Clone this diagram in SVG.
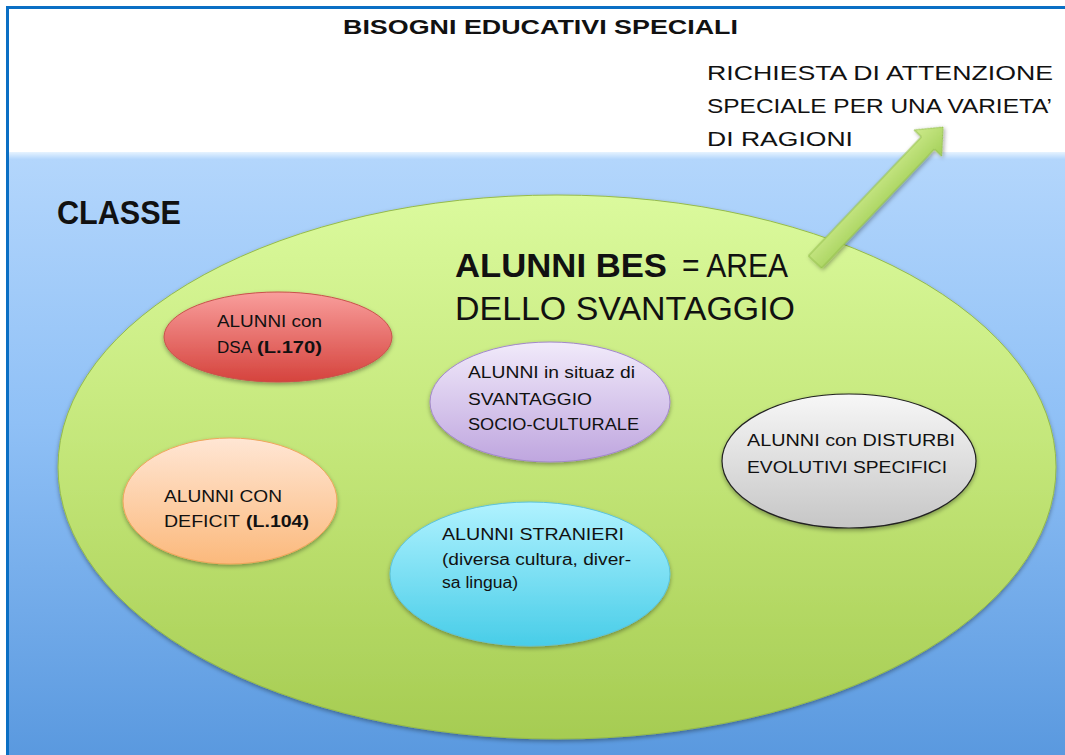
<svg xmlns="http://www.w3.org/2000/svg" width="1065" height="755" viewBox="0 0 1065 755">
<style>
.t{font-family:"Liberation Sans","DejaVu Sans",sans-serif;fill:#111;}
.lb{font-size:16px;}
.b{font-weight:bold;}
</style>
<defs>
<linearGradient id="gBlue" x1="0" y1="0" x2="0" y2="1">
<stop offset="0" stop-color="#e6f3ff"/>
<stop offset="0.012" stop-color="#b3d6fc"/>
<stop offset="0.45" stop-color="#8fc0f6"/>
<stop offset="1" stop-color="#5a99df"/>
</linearGradient>
<linearGradient id="gGreen" x1="0" y1="0" x2="0" y2="1">
<stop offset="0" stop-color="#dbfa9d"/>
<stop offset="0.5" stop-color="#c2e577"/>
<stop offset="1" stop-color="#a6cc52"/>
</linearGradient>
<linearGradient id="gRed" x1="0" y1="0" x2="0" y2="1">
<stop offset="0" stop-color="#f99e9c"/>
<stop offset="1" stop-color="#d5433d"/>
</linearGradient>
<linearGradient id="gOrange" x1="0" y1="0" x2="0" y2="1">
<stop offset="0" stop-color="#ffe6d4"/>
<stop offset="1" stop-color="#fbb97c"/>
</linearGradient>
<linearGradient id="gPurple" x1="0" y1="0" x2="0" y2="1">
<stop offset="0" stop-color="#f1eafa"/>
<stop offset="1" stop-color="#bfa6df"/>
</linearGradient>
<linearGradient id="gGray" x1="0" y1="0" x2="0" y2="1">
<stop offset="0" stop-color="#f7f7f7"/>
<stop offset="1" stop-color="#c6c6c6"/>
</linearGradient>
<linearGradient id="gCyan" x1="0" y1="0" x2="0" y2="1">
<stop offset="0" stop-color="#b0f2ff"/>
<stop offset="1" stop-color="#48cde8"/>
</linearGradient>
<linearGradient id="gArrow" x1="0" y1="0" x2="0" y2="1">
<stop offset="0" stop-color="#cdea8c"/>
<stop offset="1" stop-color="#a3d058"/>
</linearGradient>
<filter id="sh" x="-10%" y="-10%" width="120%" height="130%">
<feDropShadow dx="0" dy="2" stdDeviation="2" flood-color="#000" flood-opacity="0.35"/>
</filter>
</defs>
<rect x="0" y="0" width="1065" height="755" fill="#ffffff"/>
<rect x="8" y="152" width="1057" height="603" fill="url(#gBlue)"/>
<line x1="7" y1="7.5" x2="1065" y2="7.5" stroke="#0a6fc4" stroke-width="3"/>
<line x1="7.5" y1="6" x2="7.5" y2="755" stroke="#0a6fc4" stroke-width="3"/>
<text class="t b" x="343" y="34" font-size="20" textLength="395" lengthAdjust="spacingAndGlyphs">BISOGNI EDUCATIVI SPECIALI</text>
<text class="t" x="707" y="80" font-size="21" textLength="346" lengthAdjust="spacingAndGlyphs">RICHIESTA DI ATTENZIONE</text>
<text class="t" x="707" y="113" font-size="21" textLength="345" lengthAdjust="spacingAndGlyphs">SPECIALE PER UNA VARIETA’</text>
<text class="t" x="707" y="146" font-size="21" textLength="146" lengthAdjust="spacingAndGlyphs">DI RAGIONI</text>
<text class="t b" x="57" y="224" font-size="34" textLength="124" lengthAdjust="spacingAndGlyphs">CLASSE</text>
<g id="bes">
<ellipse cx="557" cy="467" rx="499" ry="272" fill="url(#gGreen)" stroke="#96bb4a" stroke-width="1" filter="url(#sh)"/>
<text class="t b" x="455" y="277" font-size="33" textLength="212" lengthAdjust="spacingAndGlyphs">ALUNNI BES</text>
<text class="t" x="682" y="277" font-size="33" textLength="106" lengthAdjust="spacingAndGlyphs">= AREA</text>
<text class="t" x="455" y="320" font-size="33" textLength="340" lengthAdjust="spacingAndGlyphs">DELLO SVANTAGGIO</text>
</g>
<g id="connectors">
<polygon points="0,-9 164,-9 164,-19 186,0 164,19 164,9 0,9" transform="translate(815,262) rotate(-46.5)" fill="url(#gArrow)" stroke="#93bf4d" stroke-width="1" filter="url(#sh)"/>
</g>
<g id="dsa">
<ellipse cx="278" cy="337" rx="114" ry="45" fill="url(#gRed)" stroke="#c9514c" stroke-width="1" filter="url(#sh)"/>
<text class="t lb" x="217" y="327" textLength="105" lengthAdjust="spacingAndGlyphs">ALUNNI con</text>
<text class="t lb" x="217" y="353" textLength="35" lengthAdjust="spacingAndGlyphs">DSA</text>
<text class="t lb b" x="257" y="353" textLength="65" lengthAdjust="spacingAndGlyphs">(L.170)</text>
</g>
<g id="deficit">
<ellipse cx="230" cy="501" rx="107" ry="63" fill="url(#gOrange)" stroke="#f0a55c" stroke-width="1" filter="url(#sh)"/>
<text class="t lb" x="164" y="502" textLength="118" lengthAdjust="spacingAndGlyphs">ALUNNI CON</text>
<text class="t lb" x="164" y="527" textLength="76" lengthAdjust="spacingAndGlyphs">DEFICIT</text>
<text class="t lb b" x="246" y="527" textLength="63" lengthAdjust="spacingAndGlyphs">(L.104)</text>
</g>
<g id="svantaggio">
<ellipse cx="550" cy="402" rx="120" ry="60" fill="url(#gPurple)" stroke="#a287cc" stroke-width="1" filter="url(#sh)"/>
<text class="t lb" x="468" y="378" textLength="167" lengthAdjust="spacingAndGlyphs">ALUNNI in situaz di</text>
<text class="t lb" x="468" y="405" textLength="124" lengthAdjust="spacingAndGlyphs">SVANTAGGIO</text>
<text class="t lb" x="468" y="430" textLength="171" lengthAdjust="spacingAndGlyphs">SOCIO-CULTURALE</text>
</g>
<g id="disturbi">
<ellipse cx="849" cy="461" rx="127" ry="67" fill="url(#gGray)" stroke="#222" stroke-width="1.2" filter="url(#sh)"/>
<text class="t lb" x="747" y="446" textLength="208" lengthAdjust="spacingAndGlyphs">ALUNNI con  DISTURBI</text>
<text class="t lb" x="747" y="473" textLength="200" lengthAdjust="spacingAndGlyphs">EVOLUTIVI SPECIFICI</text>
</g>
<g id="stranieri">
<ellipse cx="530" cy="574" rx="140" ry="72" fill="url(#gCyan)" stroke="#5cc3dc" stroke-width="1" filter="url(#sh)"/>
<text class="t lb" x="442" y="540" textLength="182" lengthAdjust="spacingAndGlyphs">ALUNNI STRANIERI</text>
<text class="t lb" x="442" y="565" textLength="189" lengthAdjust="spacingAndGlyphs">(diversa cultura, diver-</text>
<text class="t lb" x="442" y="588" textLength="76" lengthAdjust="spacingAndGlyphs">sa lingua)</text>
</g>
</svg>
